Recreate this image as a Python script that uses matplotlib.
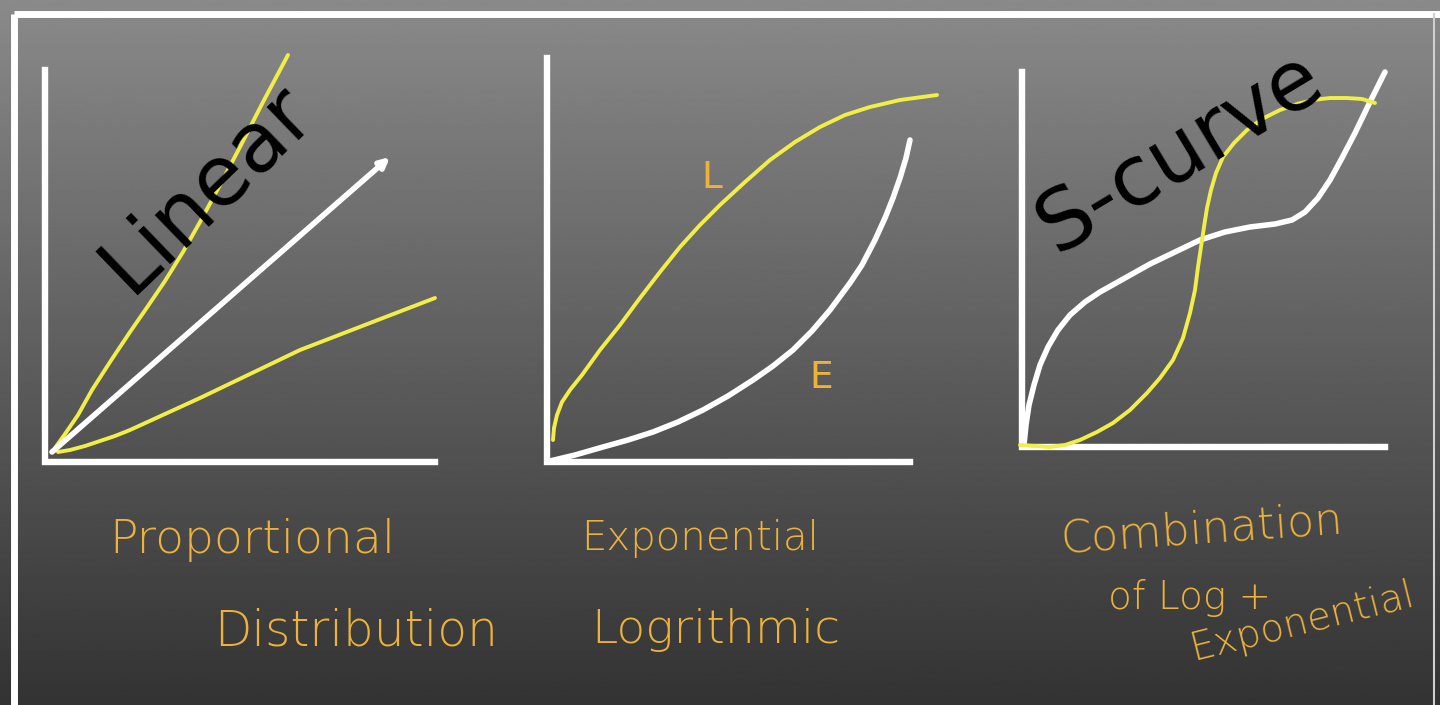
import numpy as np
import matplotlib
matplotlib.use('Agg')
import matplotlib.pyplot as plt

# Curve points (pixel coordinates, y grows downward)
lin_axis_x = [45, 45, 435]
lin_axis_y = [70, 462, 462]
lin_steep_x = [55, 65, 78, 92, 110, 130, 148, 165, 183, 200, 220, 240, 263, 288]
lin_steep_y = [448, 434, 415, 390, 362, 332, 306, 281, 252, 222, 185, 147, 102, 55]
lin_mid_x = [52, 390]
lin_mid_y = [452, 157]
lin_flat_x = [58, 70, 85, 100, 115, 130, 165, 200, 250, 300, 370, 435]
lin_flat_y = [452, 450, 446, 441, 436, 430, 414, 398, 374, 350, 323, 298]

exp_axis_x = [547, 547, 910]
exp_axis_y = [58, 462, 462]
log_x = [553, 554, 557, 562, 570, 582, 600, 620, 640, 660, 680, 700, 720,
         745, 770, 795, 820, 845, 870, 900, 937]
log_y = [440, 428, 415, 402, 390, 375, 350, 325, 298, 272, 247, 225, 205,
         182, 160, 142, 127, 115, 107, 100, 95]
exp_x = [550, 575, 603, 628, 653, 678, 703, 728, 753, 773, 793, 812, 830,
         850, 862, 875, 885, 893, 900, 906, 910]
exp_y = [461, 455, 447, 440, 432, 422, 410, 396, 380, 366, 350, 331, 310,
         283, 265, 240, 218, 198, 178, 158, 140]

s_axis_x = [1022, 1022, 1385]
s_axis_y = [72, 447, 447]
s_white_x = [1024, 1026, 1029, 1034, 1040, 1048, 1058, 1070, 1085, 1100, 1125,
             1150, 1175, 1200, 1225, 1250, 1275, 1292, 1305, 1318, 1330, 1342,
             1355, 1368, 1385]
s_white_y = [445, 425, 405, 385, 365, 347, 330, 315, 302, 292, 278,
             264, 252, 240, 232, 227, 224, 220, 212, 198, 180, 158,
             133, 106, 72]
s_yellow_x = [1020, 1035, 1050, 1065, 1080, 1097, 1113, 1130, 1147, 1160, 1173,
              1183, 1190, 1195, 1198, 1201, 1204, 1207, 1211, 1216, 1223, 1234,
              1247, 1262, 1280, 1297, 1313, 1330, 1347, 1362, 1375]
s_yellow_y = [445, 446, 447, 445, 440, 432, 423, 410, 393, 378, 360,
              338, 313, 290, 267, 247, 227, 208, 190, 173, 157, 143,
              130, 119, 110, 104, 100, 98, 98, 99, 103]

titles = ['Linear', 'S-curve']
labels = ['Proportional', 'Distribution', 'Exponential', 'Logrithmic',
          'Combination', 'of Log +', 'Exponential']

W, H = 1440, 705
fig = plt.figure(figsize=(W / 100, H / 100), dpi=100)
ax = fig.add_axes([0, 0, 1, 1])
ax.set_xlim(0, W)
ax.set_ylim(H, 0)
ax.axis('off')

# grey gradient background
grad = np.linspace(0.54, 0.20, 256).reshape(-1, 1)
ax.imshow(grad, cmap='gray', vmin=0, vmax=1, extent=[0, W, H, 0], aspect='auto', zorder=0)

# white frame
ax.plot([14, 14], [H, 14], color='white', lw=5, solid_capstyle='butt', zorder=1)
ax.plot([14, W], [14, 14], color='white', lw=5, solid_capstyle='butt', zorder=1)
ax.plot([1434, 1434], [14, H], color='#d0d0d0', lw=1.5, zorder=1)

white = 'white'
yellow = '#f2ee48'
orange = '#ecb23c'
ax_lw = 4.6
cur_lw = 4.0
y_lw = 2.8

# axes of the three sketches
for xs, ys in [(lin_axis_x, lin_axis_y), (exp_axis_x, exp_axis_y), (s_axis_x, s_axis_y)]:
    ax.plot(xs, ys, color=white, lw=ax_lw, solid_joinstyle='miter', zorder=2)

line_kw = dict(solid_capstyle='round', solid_joinstyle='round', zorder=3)

# linear panel
ax.plot(lin_steep_x, lin_steep_y, color=yellow, lw=y_lw, **line_kw)
ax.plot(lin_flat_x, lin_flat_y, color=yellow, lw=y_lw, **line_kw)
ax.annotate('', xy=(lin_mid_x[1], lin_mid_y[1]), xytext=(lin_mid_x[0], lin_mid_y[0]),
            arrowprops=dict(arrowstyle='-|>', color=white, lw=cur_lw,
                            mutation_scale=14, shrinkA=0, shrinkB=0), zorder=3)

# exponential / log panel
ax.plot(log_x, log_y, color=yellow, lw=y_lw, **line_kw)
ax.plot(exp_x, exp_y, color=white, lw=cur_lw, **line_kw)
ax.text(712, 178, 'L', color=orange, fontsize=27, ha='center', va='center',
        family='DejaVu Sans', zorder=4)
ax.text(821, 378, 'E', color=orange, fontsize=27, ha='center', va='center',
        family='DejaVu Sans', zorder=4)

# s-curve panel
ax.plot(s_white_x, s_white_y, color=white, lw=cur_lw, **line_kw)
ax.plot(s_yellow_x, s_yellow_y, color=yellow, lw=y_lw, **line_kw)

# big black titles
ax.text(207, 188, titles[0], color='black', fontsize=60, rotation=44,
        ha='center', va='center', rotation_mode='anchor', family='DejaVu Sans', zorder=5)
ax.text(1180, 152, titles[1], color='black', fontsize=60, rotation=31,
        ha='center', va='center', rotation_mode='anchor', family='DejaVu Sans', zorder=5)

# handwritten-style captions: (x, y, rotation, size)
cap_pos = [(252, 540, 0, 34), (356, 632, 0, 35), (700, 538, 0, 29), (716, 630, 0, 34),
           (1202, 530, 4, 32), (1190, 598, 0, 28), (1302, 622, 14, 28)]
for txt, (x, y, rot, fs) in zip(labels, cap_pos):
    ax.text(x, y, txt, color=orange, fontsize=fs, rotation=rot, ha='center', va='center',
            rotation_mode='anchor', family='DejaVu Sans', fontweight='light', zorder=4)

fig.savefig('out.png', dpi=100)
